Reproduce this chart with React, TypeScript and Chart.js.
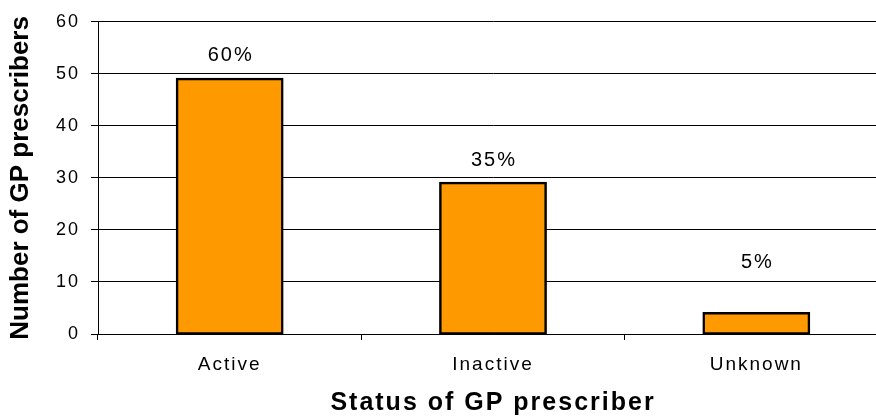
import { useEffect, useRef } from "react";
import { Chart, registerables } from "chart.js";

Chart.register(...registerables);

const categories = ["Active", "Inactive", "Unknown"];
const prescriberCounts = [49, 29, 4];
const percentLabels = ["60%", "35%", "5%"];
const percentLabelAnchor = [53.5, 33.3, 13.7];
const yMin = 0;
const yMax = 60;
const yStep = 10;
const xAxisTitle = "Status of GP prescriber";
const yAxisTitle = "Number of GP prescribers";

const FONT = "'Liberation Sans', Arial, sans-serif";
const SPACING = "2px";

export default function App() {
  const ref = useRef<HTMLCanvasElement>(null);

  useEffect(() => {
    const canvas = ref.current;
    if (!canvas) return;

    const customPlugin = {
      id: "customText",
      beforeLayout(chart: any) {
        chart.ctx.letterSpacing = SPACING;
      },
      beforeDraw(chart: any) {
        chart.ctx.letterSpacing = SPACING;
      },
      afterDraw(chart: any) {
        const ctx = chart.ctx as CanvasRenderingContext2D;
        const yScale = chart.scales.y;
        const meta = chart.getDatasetMeta(0);
        ctx.save();
        ctx.fillStyle = "#000";
        ctx.font = `20px ${FONT}`;
        (ctx as any).letterSpacing = SPACING;
        ctx.textAlign = "center";
        ctx.textBaseline = "middle";
        meta.data.forEach((bar: any, i: number) => {
          ctx.fillText(percentLabels[i], bar.x + 1, yScale.getPixelForValue(percentLabelAnchor[i]));
        });
        ctx.restore();

        ctx.save();
        (ctx as any).letterSpacing = "0px";
        ctx.fillStyle = "#000";
        ctx.font = `bold 26px ${FONT}`;
        ctx.translate(21, (chart.chartArea.top + chart.chartArea.bottom) / 2);
        ctx.rotate(-Math.PI / 2);
        ctx.textAlign = "center";
        ctx.textBaseline = "middle";
        ctx.fillText(yAxisTitle, 0, 0);
        ctx.restore();
      },
    };

    const chart = new Chart(canvas, {
      type: "bar",
      data: {
        labels: categories,
        datasets: [
          {
            data: prescriberCounts,
            backgroundColor: "#FF9900",
            borderColor: "#000",
            borderWidth: 2.5,
            inflateAmount: 1.25,
            borderSkipped: false,
            barPercentage: 0.4,
            categoryPercentage: 1,
          },
        ],
      },
      options: {
        responsive: false,
        animation: false,
        events: [],
        layout: { padding: { top: 20, right: 0, left: 0, bottom: 0 } },
        plugins: {
          legend: { display: false },
          tooltip: { enabled: false },
        },
        scales: {
          x: {
            grid: {
              display: true,
              drawOnChartArea: false,
              offset: true,
              tickLength: 6,
              color: "#000",
              lineWidth: 1,
            },
            border: { display: true, color: "#000", width: 1 },
            ticks: {
              font: { size: 19, family: FONT },
              color: "#000",
              padding: 13,
              maxRotation: 0,
            },
            title: {
              display: true,
              text: xAxisTitle,
              color: "#000",
              font: { size: 25, weight: "bold", family: FONT, lineHeight: 1 },
              padding: { top: 0, bottom: 0 },
            },
            afterFit(scale: any) {
              scale.height = 82;
            },
          },
          y: {
            min: yMin,
            max: yMax,
            ticks: {
              stepSize: yStep,
              font: { size: 18, family: FONT },
              color: "#000",
              padding: 11,
            },
            grid: { color: "#000", lineWidth: 1, tickLength: 7 },
            border: { display: true, color: "#000", width: 1 },
            afterFit(scale: any) {
              scale.width = 98;
            },
          },
        },
      },
      plugins: [customPlugin],
    } as any);

    return () => chart.destroy();
  }, []);

  return (
    <div style={{ position: "fixed", left: 0, top: 0, width: 876, height: 416, overflow: "hidden", background: "#fff" }}>
      <canvas ref={ref} width={888} height={416} style={{ display: "block" }} />
    </div>
  );
}
